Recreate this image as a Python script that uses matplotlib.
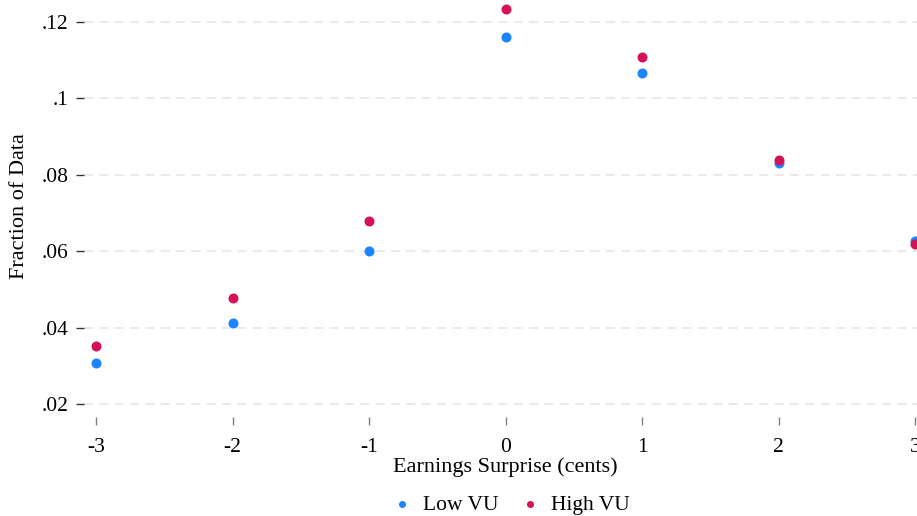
import matplotlib.pyplot as plt

surprise = [-3, -2, -1, 0, 1, 2, 3]
low_vu = [0.0307, 0.0412, 0.0601, 0.1161, 0.1067, 0.0831, 0.0627]
high_vu = [0.0352, 0.0477, 0.0679, 0.1234, 0.1108, 0.0839, 0.0619]
yticks = [0.02, 0.04, 0.06, 0.08, 0.10, 0.12]
ytick_labels = ['.02', '.04', '.06', '.08', '.1', '.12']

plt.rcParams['font.family'] = ['Liberation Serif', 'DejaVu Serif']
plt.rcParams['font.size'] = 16

W, H = 917, 516
fig = plt.figure(figsize=(W / 100, H / 100), dpi=100)
# axes box in pixels: left 84, right 917, bottom 417, top 0
ax = fig.add_axes([84 / W, (H - 417) / H, (917 - 84) / W, 417 / H])

ax.scatter(surprise, low_vu, s=52, color='#1A85FF', label='Low VU', zorder=3, clip_on=False, linewidths=0)
ax.scatter(surprise, high_vu, s=52, color='#D41159', label='High VU', zorder=4, clip_on=False, linewidths=0)

ax.set_xlim(-3 - 12 / 136.5, 3 + 2 / 136.5)
ax.set_ylim(0.02 - 13 / 3820, 0.12 + 22 / 3820)

ax.set_xticks(surprise)
ax.set_xticklabels([str(v) for v in surprise])
ax.set_yticks(yticks)
ax.set_yticklabels(ytick_labels)

for s in ax.spines.values():
    s.set_visible(False)

ax.tick_params(axis='x', length=6, width=1, color='#7f7f7f', pad=9, labelsize=15.5)
ax.tick_params(axis='y', length=6, width=1, color='#333333', pad=5, labelsize=15.5)
ax.grid(axis='y', color='#e8e8e8', linestyle=(0, (5, 3.5)), linewidth=1.3)
ax.set_axisbelow(True)

ax.set_xlabel('Earnings Surprise (cents)', fontsize=16)
ax.xaxis.label.set_va('center')
ax.xaxis.set_label_coords((505 - 84) / (917 - 84), -(467 - 417) / 417)
ax.set_ylabel('Fraction of Data', fontsize=16)
ax.yaxis.label.set_va('center')
ax.yaxis.set_label_coords(-(84 - 20) / (917 - 84), (417 - 206) / 417)

fig.legend(loc='center', bbox_to_anchor=(505 / W, 1 - 505 / H), ncol=2, frameon=False,
           fontsize=15.5, handletextpad=0.0, columnspacing=0.45, markerscale=0.7,
           borderpad=0.2)

fig.savefig('out.png', dpi=100)
